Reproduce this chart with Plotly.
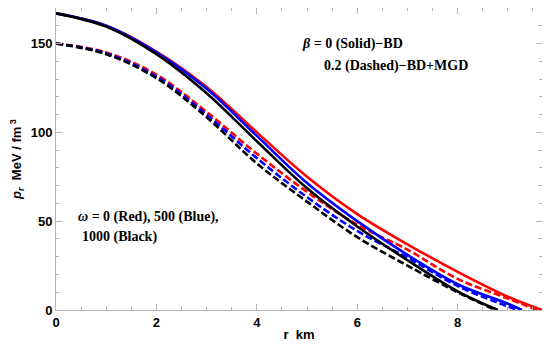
import plotly.graph_objects as go

# Radial coordinate samples (km) and radial pressure p_r (MeV/fm^3)
r_grid = [0, 1, 2, 3, 4, 5, 6, 7, 8, 9]

# beta = 0 (solid, BD)
r_red_solid = r_grid + [9.68]
p_red_solid = [167, 160, 145.5, 125.5, 100, 75, 54, 37, 21.5, 7.5, 0]
r_blue_solid = r_grid[:-1] + [9.0, 9.28]
p_blue_solid = [167, 160, 145, 124.5, 98, 71.5, 50, 31, 14.5, 3.5, 0]
r_black_solid = r_grid[:-1] + [8.8]
p_black_solid = [167, 159.5, 144, 122, 95, 68.5, 47, 28, 10.5, 0]

# beta = 0.2 (dashed, BD+MGD)
r_red_dash = r_grid + [9.58]
p_red_dash = [150, 145, 132.5, 111.5, 88, 66.5, 48, 34, 17.5, 6.5, 0]
r_blue_dash = r_grid + [9.2]
p_blue_dash = [150, 144.5, 131.5, 110, 85.5, 63.5, 44.5, 29.5, 13.5, 2, 0]
r_black_dash = r_grid[:-1] + [8.75]
p_black_dash = [150, 144, 130.5, 108.5, 82.5, 61, 41, 25, 10, 0]

colors = {"red": "#ff0000", "blue": "#0000ff", "black": "#000000"}

series = [
    (r_red_dash, p_red_dash, "red", "dash"),
    (r_blue_dash, p_blue_dash, "blue", "dash"),
    (r_black_dash, p_black_dash, "black", "dash"),
    (r_red_solid, p_red_solid, "red", "solid"),
    (r_blue_solid, p_blue_solid, "blue", "solid"),
    (r_black_solid, p_black_solid, "black", "solid"),
]

fig = go.Figure()
for r, p, c, d in series:
    fig.add_trace(go.Scatter(
        x=r, y=p, mode="lines",
        line=dict(color=colors[c], width=2.6, shape="spline", smoothing=1.0,
                  dash="7px,3px" if d == "dash" else "solid"),
        showlegend=False, hoverinfo="skip",
    ))

axis_common = dict(
    showline=True, linecolor="#b4b4b4", linewidth=1, mirror="allticks",
    ticks="inside", ticklen=6, tickcolor="#b4b4b4", tickwidth=1,
    showgrid=False, zeroline=False, automargin=False,
    tickfont=dict(family="Liberation Sans", size=13, color="black", weight="bold"),
)

title_font = dict(family="Liberation Sans", size=13, color="black", weight="bold")
fig.update_xaxes(
    range=[0, 9.68], tickvals=[0, 2, 4, 6, 8],
    minor=dict(dtick=0.5, tick0=0, ticks="inside", ticklen=3, tickcolor="#b4b4b4"),
    title=dict(text="r  km", font=title_font, standoff=4),
    **axis_common,
)
fig.update_yaxes(
    range=[0, 170], tickvals=[0, 50, 100, 150],
    minor=dict(dtick=10, tick0=0, ticks="inside", ticklen=3, tickcolor="#b4b4b4"),
    title=dict(text="<i>p</i><sub><i>r</i></sub>  MeV / fm<sup> 3</sup>",
               font=title_font, standoff=6),
    **axis_common,
)

# page body has an 8px margin; compensate so the plot frame sits where the reference has it
OFF = 8
W, H = 534, 334
L, R, T, B = 48, 0, 0, 32
plot_left, plot_top = OFF + L, OFF + T
plot_w, plot_h = W - L - R, H - T - B

ann_font = dict(family="Liberation Serif", size=14, color="black", weight="bold")
annotations = [
    (300, 44, "<i>β</i> = 0 (Solid)−BD"),
    (322, 66, "0.2 (Dashed)−BD+MGD"),
    (76, 217, "<i>ω</i> = 0 (Red), 500 (Blue),"),
    (80, 237, "1000 (Black)"),
]
for px, py, txt in annotations:
    fig.add_annotation(
        x=(px - plot_left) / plot_w, y=1 - (py - plot_top) / plot_h,
        xref="paper", yref="paper", text=txt, showarrow=False,
        font=ann_font, xanchor="left", yanchor="middle",
    )

fig.update_layout(
    width=W, height=H, margin=dict(l=L, r=R, t=T, b=B),
    plot_bgcolor="white", paper_bgcolor="white",
)
fig.write_html("out.html")
